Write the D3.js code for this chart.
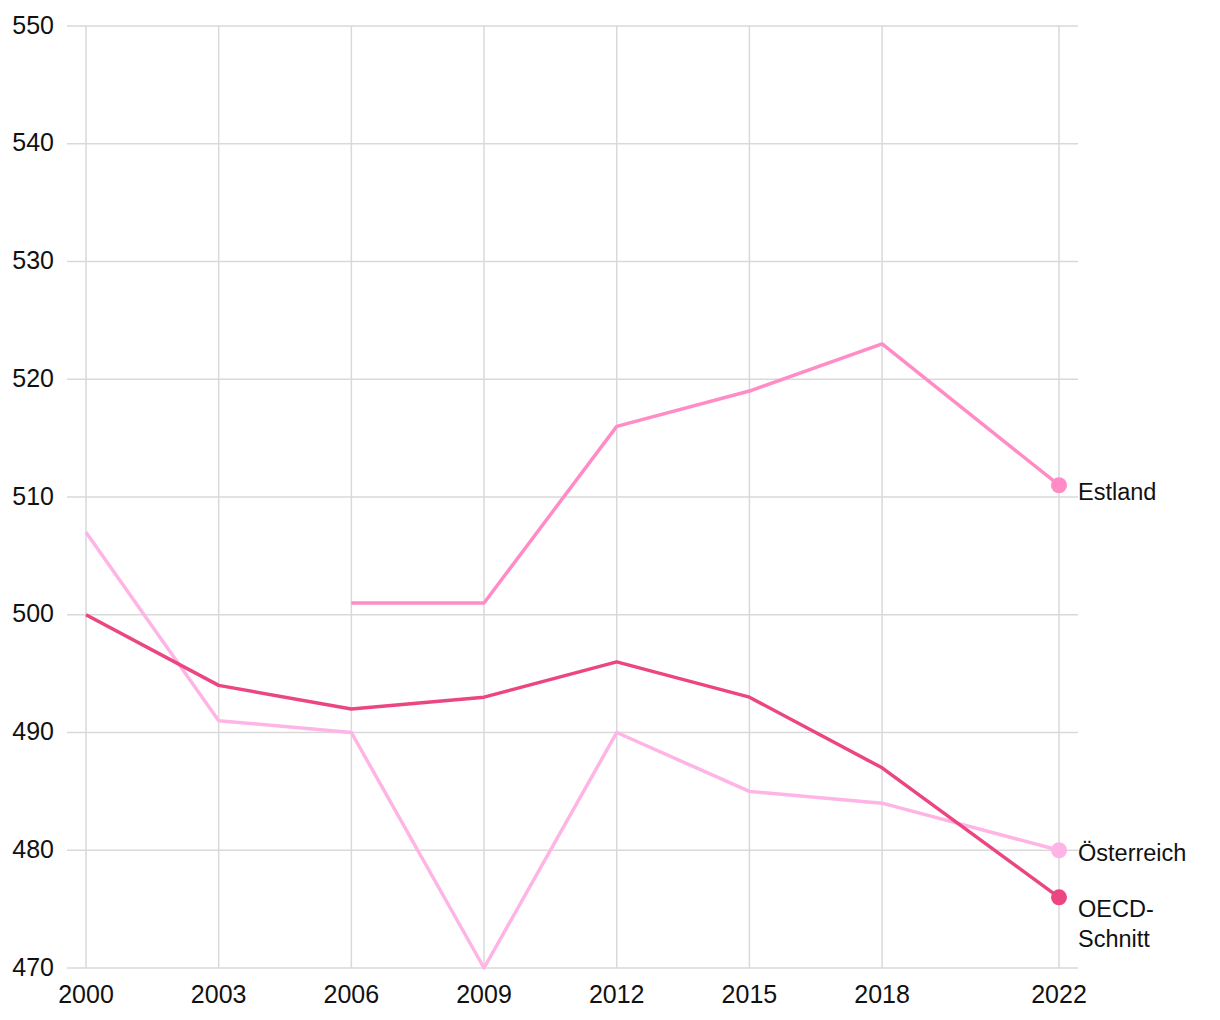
<!DOCTYPE html>
<html><head><meta charset="utf-8">
<script src="https://cdn.jsdelivr.net/npm/d3@7"></script>
<style>body{margin:0;background:#fff}svg text{font-family:"Liberation Sans",Arial,sans-serif;fill:#111}</style>
</head><body><svg id="c" width="1220" height="1020"></svg>
<script>
const years = [2000, 2003, 2006, 2009, 2012, 2015, 2018, 2022];
const yTicks = [470, 480, 490, 500, 510, 520, 530, 540, 550];
const estland = [null, null, 501, 501, 516, 519, 523, 511];
const oesterreich = [507, 491, 490, 470, 490, 485, 484, 480];
const oecd = [500, 494, 492, 493, 496, 493, 487, 476];
const seriesNames = ["Estland", "Österreich", "OECD-Schnitt"];
const seriesColors = ["#ff8cc6", "#ffb4e6", "#eb4682"];

const svg = d3.select("#c");
const x = d3.scaleLinear().domain([2000, 2022]).range([86, 1059]);
const y = d3.scaleLinear().domain([470, 550]).range([968, 26]);

// grid
svg.append("g").selectAll("line").data(yTicks).join("line")
  .attr("x1", 67).attr("x2", 1078).attr("y1", d => y(d)).attr("y2", d => y(d))
  .attr("stroke", "#d9d9d9").attr("stroke-width", 1.5);
svg.append("g").selectAll("line").data(years).join("line")
  .attr("x1", d => x(d)).attr("x2", d => x(d)).attr("y1", 26).attr("y2", 968)
  .attr("stroke", "#d9d9d9").attr("stroke-width", 1.5);

svg.append("g").selectAll("text").data(yTicks).join("text")
  .attr("x", 54).attr("y", d => y(d)).attr("dy", "0.3em").attr("text-anchor", "end")
  .attr("font-size", 25).text(d => d);
svg.append("g").selectAll("text").data(years).join("text")
  .attr("x", d => x(d)).attr("y", 994).attr("dy", "0.35em").attr("text-anchor", "middle")
  .attr("font-size", 25).text(d => d);

const data = [estland, oesterreich, oecd];
const order = [1, 0, 2];
order.forEach(i => {
  const vals = data[i];
  const line = d3.line().defined(d => d != null).x((d, j) => x(years[j])).y(d => y(d));
  svg.append("path").datum(vals).attr("d", line).attr("fill", "none")
    .attr("stroke", seriesColors[i]).attr("stroke-width", 3.5).attr("stroke-linejoin", "round");
});
order.forEach(i => {
  const vals = data[i];
  const last = vals[vals.length - 1];
  svg.append("circle").attr("cx", x(years[years.length - 1])).attr("cy", y(last)).attr("r", 8)
    .attr("fill", seriesColors[i]);
});
// labels
const labelOffsets = [7, 3, 11];
seriesNames.forEach((name, i) => {
  const vals = data[i];
  const last = vals[vals.length - 1];
  const t = svg.append("text").attr("x", 1078).attr("y", y(last) + labelOffsets[i])
    .attr("font-size", 23.5);
  const parts = name === "OECD-Schnitt" ? ["OECD-", "Schnitt"] : [name];
  parts.forEach((p, k) => t.append("tspan").attr("x", 1078).attr("dy", k === 0 ? "0.35em" : 30).text(p));
});
</script></body></html>
